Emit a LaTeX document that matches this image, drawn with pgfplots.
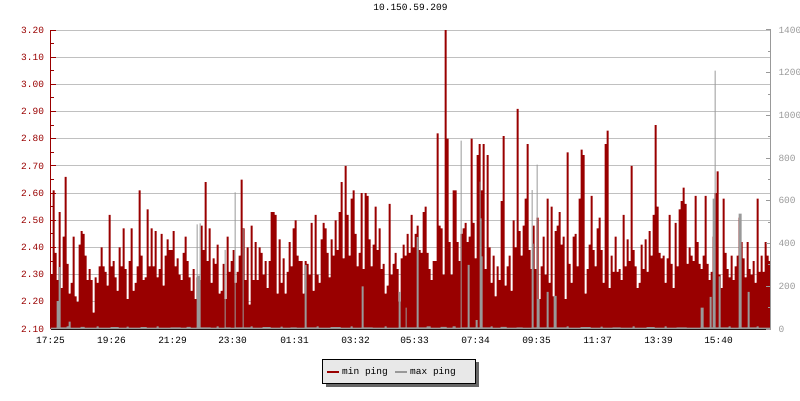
\documentclass[border=0pt]{standalone}
\usepackage{fontspec}
\setmainfont{Liberation Mono}
\usepackage{pgfplots}
\usepackage{pgfplotstable}
\pgfplotsset{compat=1.18}

\definecolor{minred}{HTML}{990000}
\definecolor{maxgray}{HTML}{999999}
\definecolor{gridgray}{HTML}{C0C0C0}
\definecolor{legfill}{HTML}{E8E8E8}

% one min ping value every 2 px, 17:25 -> 17:25 next day
\pgfplotstableread[row sep=\\, header=false]{
2.30\\ 2.61\\ 2.38\\ 2.28\\ 2.53\\ 2.25\\ 2.44\\ 2.66\\ 2.34\\ 2.23\\ 2.27\\ 2.44\\ 2.22\\ 2.20\\ 2.41\\ 2.46\\ 2.45\\ 2.37\\
2.28\\ 2.32\\ 2.28\\ 2.16\\ 2.29\\ 2.27\\ 2.33\\ 2.40\\ 2.33\\ 2.31\\ 2.26\\ 2.52\\ 2.33\\ 2.35\\ 2.29\\ 2.24\\ 2.40\\ 2.33\\
2.47\\ 2.32\\ 2.21\\ 2.35\\ 2.47\\ 2.24\\ 2.27\\ 2.33\\ 2.61\\ 2.37\\ 2.28\\ 2.29\\ 2.54\\ 2.33\\ 2.47\\ 2.33\\ 2.46\\ 2.29\\
2.32\\ 2.45\\ 2.26\\ 2.37\\ 2.43\\ 2.39\\ 2.39\\ 2.46\\ 2.33\\ 2.36\\ 2.30\\ 2.28\\ 2.38\\ 2.44\\ 2.35\\ 2.29\\ 2.24\\ 2.32\\
2.21\\ 2.29\\ 2.28\\ 2.48\\ 2.39\\ 2.64\\ 2.35\\ 2.47\\ 2.27\\ 2.36\\ 2.34\\ 2.41\\ 2.23\\ 2.24\\ 2.34\\ 2.21\\ 2.44\\ 2.31\\
2.35\\ 2.39\\ 2.27\\ 2.31\\ 2.37\\ 2.65\\ 2.47\\ 2.28\\ 2.40\\ 2.19\\ 2.48\\ 2.28\\ 2.42\\ 2.28\\ 2.40\\ 2.38\\ 2.30\\ 2.35\\
2.25\\ 2.35\\ 2.53\\ 2.53\\ 2.52\\ 2.23\\ 2.43\\ 2.27\\ 2.36\\ 2.23\\ 2.31\\ 2.42\\ 2.33\\ 2.47\\ 2.50\\ 2.37\\ 2.35\\ 2.35\\
2.23\\ 2.35\\ 2.34\\ 2.30\\ 2.49\\ 2.24\\ 2.52\\ 2.30\\ 2.27\\ 2.43\\ 2.49\\ 2.47\\ 2.38\\ 2.29\\ 2.43\\ 2.37\\ 2.50\\ 2.39\\
2.53\\ 2.64\\ 2.36\\ 2.70\\ 2.52\\ 2.37\\ 2.58\\ 2.61\\ 2.45\\ 2.33\\ 2.38\\ 2.60\\ 2.32\\ 2.60\\ 2.59\\ 2.43\\ 2.33\\ 2.41\\
2.55\\ 2.39\\ 2.47\\ 2.32\\ 2.34\\ 2.23\\ 2.26\\ 2.56\\ 2.30\\ 2.34\\ 2.38\\ 2.32\\ 2.20\\ 2.36\\ 2.41\\ 2.37\\ 2.45\\ 2.38\\
2.52\\ 2.40\\ 2.45\\ 2.48\\ 2.39\\ 2.38\\ 2.53\\ 2.55\\ 2.38\\ 2.32\\ 2.28\\ 2.35\\ 2.35\\ 2.82\\ 2.48\\ 2.47\\ 2.30\\ 3.20\\
2.80\\ 2.42\\ 2.30\\ 2.61\\ 2.61\\ 2.42\\ 2.35\\ 2.45\\ 2.47\\ 2.49\\ 2.42\\ 2.44\\ 2.80\\ 2.49\\ 2.36\\ 2.74\\ 2.78\\ 2.61\\
2.78\\ 2.32\\ 2.74\\ 2.40\\ 2.27\\ 2.37\\ 2.22\\ 2.33\\ 2.28\\ 2.57\\ 2.81\\ 2.26\\ 2.33\\ 2.37\\ 2.24\\ 2.50\\ 2.40\\ 2.91\\
2.46\\ 2.37\\ 2.48\\ 2.58\\ 2.78\\ 2.39\\ 2.32\\ 2.48\\ 2.32\\ 2.51\\ 2.21\\ 2.33\\ 2.44\\ 2.30\\ 2.58\\ 2.27\\ 2.55\\ 2.22\\
2.46\\ 2.48\\ 2.53\\ 2.41\\ 2.44\\ 2.21\\ 2.75\\ 2.34\\ 2.27\\ 2.44\\ 2.45\\ 2.33\\ 2.58\\ 2.76\\ 2.74\\ 2.23\\ 2.32\\ 2.41\\
2.59\\ 2.39\\ 2.33\\ 2.47\\ 2.51\\ 2.39\\ 2.27\\ 2.78\\ 2.83\\ 2.25\\ 2.37\\ 2.31\\ 2.44\\ 2.31\\ 2.32\\ 2.28\\ 2.52\\ 2.33\\
2.43\\ 2.35\\ 2.70\\ 2.39\\ 2.33\\ 2.25\\ 2.27\\ 2.41\\ 2.32\\ 2.43\\ 2.31\\ 2.46\\ 2.37\\ 2.52\\ 2.85\\ 2.55\\ 2.38\\ 2.36\\
2.37\\ 2.27\\ 2.36\\ 2.52\\ 2.34\\ 2.25\\ 2.49\\ 2.33\\ 2.54\\ 2.57\\ 2.62\\ 2.56\\ 2.34\\ 2.40\\ 2.37\\ 2.35\\ 2.59\\ 2.42\\
2.34\\ 2.32\\ 2.37\\ 2.59\\ 2.34\\ 2.28\\ 2.31\\ 2.44\\ 2.60\\ 2.68\\ 2.30\\ 2.25\\ 2.58\\ 2.38\\ 2.32\\ 2.29\\ 2.37\\ 2.28\\
2.33\\ 2.37\\ 2.51\\ 2.42\\ 2.36\\ 2.29\\ 2.42\\ 2.32\\ 2.30\\ 2.35\\ 2.27\\ 2.58\\ 2.31\\ 2.37\\ 2.31\\ 2.42\\ 2.37\\ 2.35\\
2.35\\
}\minping

\begin{document}
\begin{tikzpicture}[font=\fontsize{9.5}{11}\selectfont]
\useasboundingbox (0,0) rectangle (800pt,400pt);

\begin{axis}[
    at={(50.5pt,71pt)}, anchor=south west,
    scale only axis, width=720pt, height=299pt,
    xmin=50, xmax=770, ymin=2.1, ymax=3.2,
    axis x line*=bottom, axis y line*=left,
    axis line style={-},
    x axis line style={black, line width=1.2pt},
    y axis line style={minred, line width=1pt},
    xtick={50,111,172,232,294,355,414,475,536,597,658,718},
    xticklabels={17:25,19:26,21:29,23:30,01:31,03:32,05:33,07:34,09:35,11:37,13:39,15:40},
    ytick={2.1,2.2,2.3,2.4,2.5,2.6,2.7,2.8,2.9,3.0,3.1,3.2},
    minor y tick num=1,
    tick align=inside,
    major tick length=5pt, minor tick length=3pt,
    xtick style={black, line width=1pt},
    ytick style={minred, line width=1pt},
    /pgf/number format/assume math mode=true,
    yticklabel style={minred, xshift=-3pt, /pgf/number format/.cd, fixed, fixed zerofill, precision=2},
    xticklabel style={black, yshift=-5pt},
    ymajorgrids, grid style={gridgray, line width=0.9pt},
    title={10.150.59.209}, title style={at={(0.5,1)}, anchor=center, yshift=17pt},
]
\addplot[const plot, fill=minred, draw=none]
    table[x expr=50+2*\coordindex, y index=0] {\minping} \closedcycle;
\end{axis}

\begin{axis}[
    at={(50.5pt,71pt)}, anchor=south west,
    scale only axis, width=720pt, height=299pt,
    xmin=50, xmax=770, ymin=0, ymax=1400,
    axis x line=none, axis y line*=right,
    axis line style={-, maxgray, line width=1pt},
    ytick={0,200,400,600,800,1000,1200,1400},
    minor y tick num=1,
    tick align=inside,
    major tick length=5pt, minor tick length=3pt,
    ytick style={maxgray, line width=1pt},
    /pgf/number format/assume math mode=true,
    yticklabel style={maxgray, xshift=4.5pt, /pgf/number format/.cd, fixed, 1000 sep={}},
]
\addplot[const plot, fill=maxgray, draw=none] coordinates {
    (50,6) (56,130) (58,290) (60,8) (66,12) (68,35) (70,6) (80,10) (84,6) (96,12) (98,7)
    (110,9) (118,6) (126,11) (128,6) (140,9) (146,6) (156,12) (158,6) (170,8) (180,6)
    (186,10) (190,6) (196,490) (197,250) (199,495) (200,8) (210,6) (216,12) (218,6)
    (224,370) (225,8) (230,6) (234,640) (235,8) (242,470) (243,8) (250,12) (252,6)
    (262,9) (270,6) (280,11) (282,6) (290,8) (296,6) (304,300) (306,8) (316,12) (318,6)
    (330,9) (340,6) (350,12) (352,6) (361,200) (363,8) (372,6) (384,12) (386,6)
    (398,174) (400,8) (405,100) (406,8) (416,430) (418,8) (426,12) (430,6) (440,10)
    (446,6) (452,12) (455,6) (460,882) (461,8) (467,300) (469,8) (475,42) (477,8)
    (479,690) (480,518) (481,340) (482,8) (490,12) (492,6) (500,10) (506,6) (516,8)
    (522,6) (531,650) (532,400) (533,8) (536,770) (537,140) (539,8) (546,174) (548,8)
    (553,155) (556,8) (566,12) (568,6) (580,9) (590,6) (600,11) (602,6) (612,8)
    (620,6) (632,12) (634,6) (646,9) (654,6) (664,12) (666,6) (676,8) (686,6)
    (700,100) (703,8) (709,150) (711,8) (712,610) (714,1210) (715,8) (718,247) (720,8)
    (728,12) (730,6) (738,540) (741,8) (747,174) (749,8) (756,12) (758,6) (770,6)
} \closedcycle;
\end{axis}

% legend box with its shadow, below the plot
\fill[black!60] (326pt,13pt) rectangle (479pt,38pt);
\draw[fill=legfill, line width=1pt] (322pt,17pt) rectangle (475pt,41pt);
\draw[minred, line width=2.5pt] (327pt,28pt) -- (339pt,28pt);
\node[anchor=base west, inner sep=0pt] at (342pt,25.5pt) {min ping};
\draw[maxgray, line width=2.5pt] (395pt,28pt) -- (407pt,28pt);
\node[anchor=base west, inner sep=0pt] at (410pt,25.5pt) {max ping};
\end{tikzpicture}
\end{document}
